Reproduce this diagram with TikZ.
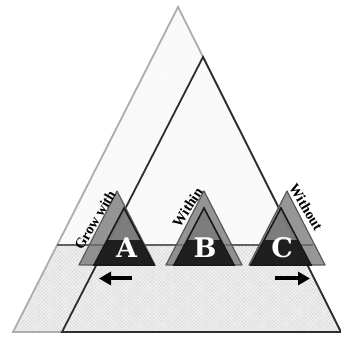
\documentclass[tikz,border=0pt]{standalone}
\usepackage{fontspec}
\newfontfamily\slabfont{DejaVu Serif}
\newfontfamily\labfont{Liberation Serif}
\usetikzlibrary{patterns.meta,arrows.meta}
\begin{document}
\begin{tikzpicture}[x=1pt,y=-1pt,
 backtri/.style={fill=black!55, fill opacity=0.75, draw=black!65, line width=1.2pt, line join=round},
 frontup/.style={fill=black!52, fill opacity=0.85},
 frontlow/.style={fill=black!88},
 frontline/.style={draw=black!90, line width=1.6pt, line join=miter},
 letter/.style={text=white, font=\slabfont\bfseries\fontsize{27}{27}\selectfont, inner sep=0pt, anchor=base},
 lab/.style={font=\labfont\bfseries\fontsize{14.5}{14.5}\selectfont, inner sep=0pt},
 mvarrow/.style={line width=4pt, -{Triangle[length=12pt,width=13pt]}}
]
\useasboundingbox (0,0) rectangle (341,337);
\fill[white] (0,0) rectangle (341,337);
% light big triangle fill
\fill[black!2] (178,7) -- (13,332) -- (341,332) -- cycle;
\fill[pattern={Lines[angle=60,distance=4pt,line width=0.25pt]}, pattern color=black!6] (178,7) -- (13,332) -- (341,332) -- cycle;
% lower textured region
\fill[black!5] (57.2,245) -- (13,332) -- (341,332) -- (297.3,245) -- cycle;
\fill[pattern={Lines[angle=45,distance=2.5pt,line width=0.3pt]}, pattern color=black!16] (57.2,245) -- (13,332) -- (341,332) -- (297.3,245) -- cycle;
\fill[pattern={Lines[angle=-45,distance=2.5pt,line width=0.3pt]}, pattern color=black!16] (57.2,245) -- (13,332) -- (341,332) -- (297.3,245) -- cycle;
% outlines of big triangles
\draw[black!32, line width=1.8pt, line join=miter] (178,7) -- (13,332) -- (341,332) -- cycle;
\draw[black!82, line width=1.8pt, line join=miter] (203,57) -- (62,332) -- (341,332) -- cycle;
% horizontal line
\draw[black!62, line width=1.2pt] (57.2,245) -- (313,245);
% back triangles
\draw[backtri] (117,191) -- (79,265) -- (155,265) -- cycle;
\draw[backtri] (204,191) -- (166,265) -- (242,265) -- cycle;
\draw[backtri] (287,191) -- (249,265) -- (325,265) -- cycle;
% front triangles
\foreach \cx in {124,204,281}{
  \fill[frontup] (\cx,208) -- (\cx-30,265) -- (\cx+30,265) -- cycle;
  \begin{scope}
    \clip (\cx,208) -- (\cx-30,265) -- (\cx+30,265) -- cycle;
    \fill[frontlow] (\cx-40,240) rectangle (\cx+40,270);
  \end{scope}
  \draw[frontline] (\cx,208) -- (\cx-30,265) -- (\cx+30,265) -- cycle;
}
% letters
\node[letter] (A) at (126.5,257.5) {A};
\node[letter] (B) at (205,257.5) {B};
\node[letter] (C) at (282,257.5) {C};
% labels
\node[lab, rotate=59] (growwith) at (95,220) {Grow with};
\node[lab, rotate=57] (within) at (187.5,207.5) {Within};
\node[lab, rotate=-59] (without) at (306,207) {Without};
% arrows
\coordinate (la1) at (132,278.5);
\coordinate (la2) at (99,278.5);
\coordinate (ra1) at (275,278.5);
\coordinate (ra2) at (310,278.5);
\draw[mvarrow] (la1) -- (la2);
\draw[mvarrow] (ra1) -- (ra2);
\end{tikzpicture}
\end{document}
